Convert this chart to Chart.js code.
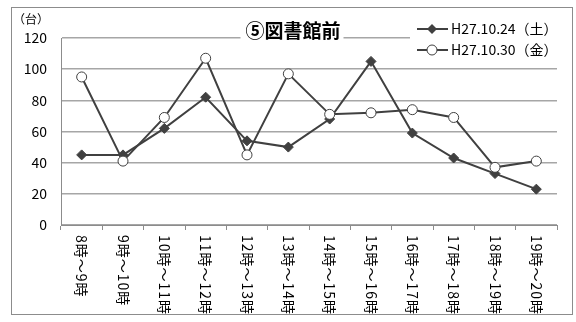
<!DOCTYPE html>
<html>
<head>
<meta charset="utf-8">
<script src="https://cdn.jsdelivr.net/npm/chart.js@4/dist/chart.umd.min.js"></script>
<style>
  html, body { margin: 0; padding: 0; background: #fff; }
</style>
</head>
<body>
<canvas id="chart" width="576" height="322"></canvas>
<script>
// データ
const hours = ['8時～9時', '9時～10時', '10時～11時', '11時～12時', '12時～13時', '13時～14時',
               '14時～15時', '15時～16時', '16時～17時', '17時～18時', '18時～19時', '19時～20時'];
const sat24 = [45, 45, 62, 82, 54, 50, 68, 105, 59, 43, 33, 23];
const fri30 = [95, 41, 69, 107, 45, 97, 71, 72, 74, 69, 37, 41];
const seriesNames = ['H27.10.24（土）', 'H27.10.30（金）'];
const yTicks = [0, 20, 40, 60, 80, 100, 120];
const chartTitle = '⑤図書館前';
const unitLabel = '（台）';

const FONT = "'Noto Sans CJK JP', 'Noto Sans', sans-serif";
const LINE = '#404040';

function marker(ctx, style, x, y, r) {
    ctx.beginPath();
    if (style === 'rectRot') {
        ctx.moveTo(x, y - r); ctx.lineTo(x + r, y); ctx.lineTo(x, y + r); ctx.lineTo(x - r, y);
        ctx.closePath();
        ctx.fillStyle = LINE; ctx.fill();
    } else {
        ctx.arc(x, y, r, 0, Math.PI * 2);
        ctx.fillStyle = '#fff'; ctx.fill();
        ctx.lineWidth = 1; ctx.strokeStyle = LINE; ctx.stroke();
    }
}

// 枠・タイトル・凡例・軸ラベル
const decor = {
    id: 'decor',
    beforeDraw(chart) {
        const ctx = chart.ctx;
        ctx.save();
        ctx.strokeStyle = '#8c8c8c';
        ctx.lineWidth = 1;
        ctx.strokeRect(11.5, 7.5, 561, 307);
        ctx.restore();
    },
    afterDraw(chart) {
        const ctx = chart.ctx;
        const xs = chart.scales.x;
        ctx.save();
        // 横軸ラベル（縦書き風）
        ctx.fillStyle = '#000';
        ctx.font = '14px ' + FONT;
        ctx.letterSpacing = '1px';
        ctx.textAlign = 'left';
        ctx.textBaseline = 'middle';
        hours.forEach((h, i) => {
            ctx.save();
            ctx.translate(xs.getPixelForValue(i), xs.top + 10);
            ctx.rotate(Math.PI / 2);
            ctx.fillText(h, 0, 0);
            ctx.restore();
        });
        ctx.letterSpacing = '0px';
        // 単位
        ctx.font = '12px ' + FONT;
        ctx.fillText(unitLabel, 13, 19);
        // タイトル
        ctx.font = 'bold 19px ' + FONT;
        const tw = ctx.measureText(chartTitle).width;
        ctx.fillStyle = '#fff';
        ctx.fillRect(292 - tw / 2 - 4, 18, tw + 8, 24);
        ctx.fillStyle = '#000';
        ctx.textAlign = 'center';
        ctx.fillText(chartTitle, 293, 31);
        // 凡例
        ctx.fillStyle = '#fff';
        ctx.fillRect(410, 16, 150, 44);
        ctx.font = '14px ' + FONT;
        ctx.textAlign = 'left';
        chart.data.datasets.forEach((ds, i) => {
            const y = 29 + i * 21;
            ctx.strokeStyle = LINE;
            ctx.lineWidth = 2;
            ctx.beginPath(); ctx.moveTo(417, y); ctx.lineTo(448, y); ctx.stroke();
            marker(ctx, ds.pointStyle, 432, y, ds.pointRadius);
            ctx.fillStyle = '#000';
            ctx.fillText(ds.label, 451, y);
        });
        ctx.restore();
    }
};

new Chart(document.getElementById('chart'), {
    type: 'line',
    data: {
        labels: hours,
        datasets: [{
            label: seriesNames[0],
            data: sat24,
            borderColor: LINE,
            backgroundColor: LINE,
            borderWidth: 2,
            pointStyle: 'rectRot',
            pointRadius: 5,
            pointBorderWidth: 1,
            order: 2
        }, {
            label: seriesNames[1],
            data: fri30,
            borderColor: LINE,
            backgroundColor: '#fff',
            borderWidth: 2,
            pointStyle: 'circle',
            pointRadius: 5,
            pointBorderWidth: 1,
            order: 1
        }]
    },
    options: {
        responsive: false,
        animation: false,
        devicePixelRatio: 1,
        layout: { padding: { left: 11, right: 19, top: 38, bottom: 8 } },
        plugins: {
            legend: { display: false },
            title: { display: false },
            tooltip: { enabled: false }
        },
        scales: {
            x: {
                offset: true,
                grid: { offset: true, drawOnChartArea: false, drawTicks: true, tickLength: 5, color: '#8c8c8c' },
                border: { color: '#8c8c8c' },
                ticks: { display: false },
                afterFit(s) { s.height = 89; }
            },
            y: {
                min: 0,
                max: 120,
                afterBuildTicks(s) { s.ticks = yTicks.map(v => ({ value: v })); },
                ticks: { color: '#000', font: { family: FONT, size: 14 }, padding: 14 },
                grid: { color: '#a6a6a6', lineWidth: 1.5, drawTicks: false },
                border: { color: '#8c8c8c' },
                afterFit(s) { s.width = 50; }
            }
        }
    },
    plugins: [decor]
});
</script>
</body>
</html>
